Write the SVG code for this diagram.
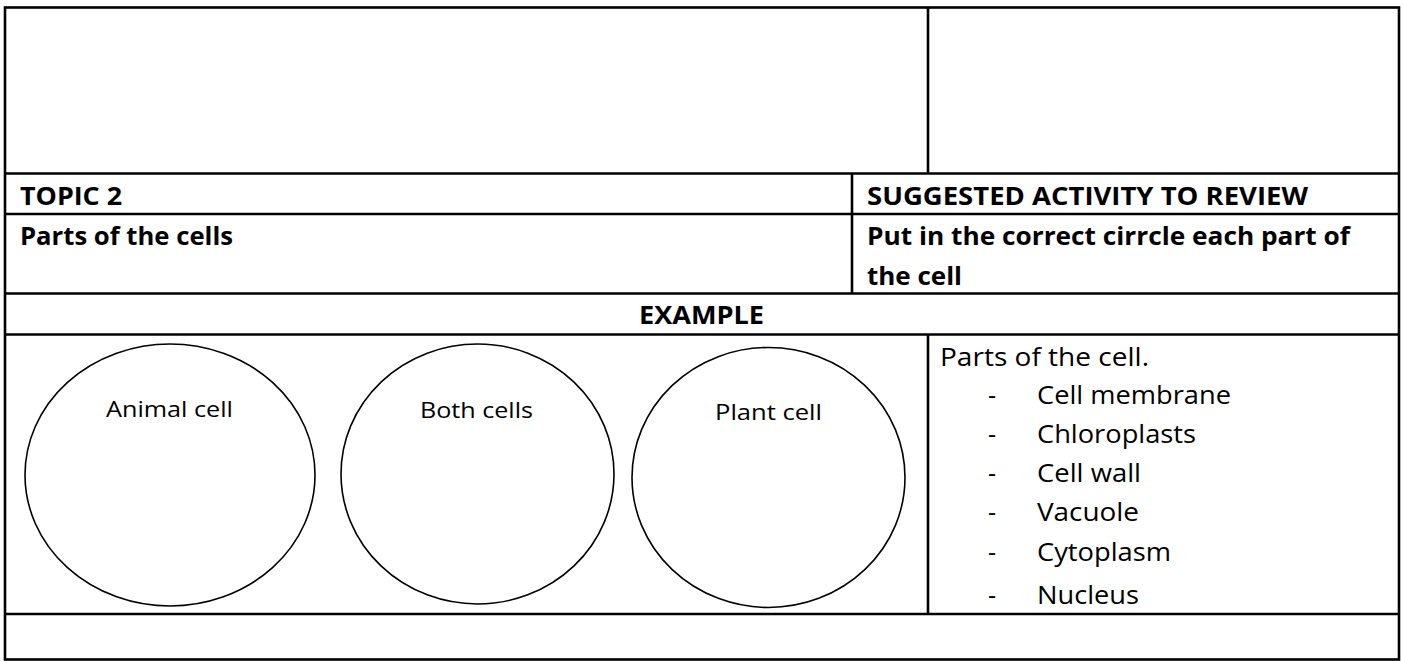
<svg xmlns="http://www.w3.org/2000/svg" width="1403" height="661" viewBox="0 0 1403 661">
  <style>
    .rule { stroke: #000; stroke-width: 2.6; fill: none; }
    .cell { stroke: #000; stroke-width: 1.6; fill: none; }
    .bold { font-family: "Open Sans", "Noto Sans", sans-serif; font-weight: 700; font-size: 25px; fill: #000; }
    .label { font-family: "Open Sans", "Noto Sans", sans-serif; font-size: 22px; fill: #000; }
    .list { font-family: "Open Sans", "Noto Sans", sans-serif; font-size: 25px; fill: #000; }
  </style>
  <rect width="1403" height="661" fill="#fff"/>

  <!-- table grid -->
  <g id="connectors">
    <rect class="rule" x="5" y="7.5" width="1394" height="652"/>
    <line class="rule" x1="928" y1="7.5" x2="928" y2="173.5"/>
    <line class="rule" x1="5" y1="173.5" x2="1399" y2="173.5"/>
    <line class="rule" x1="5" y1="214" x2="1399" y2="214"/>
    <line class="rule" x1="852" y1="173.5" x2="852" y2="293.5"/>
    <line class="rule" x1="5" y1="293.5" x2="1399" y2="293.5"/>
    <line class="rule" x1="5" y1="334.5" x2="1399" y2="334.5"/>
    <line class="rule" x1="928" y1="334.5" x2="928" y2="614"/>
    <line class="rule" x1="5" y1="614" x2="1399" y2="614"/>
  </g>

  <!-- header rows -->
  <g id="topic">
    <text class="bold" x="20" y="205" textLength="102" lengthAdjust="spacingAndGlyphs">TOPIC 2</text>
    <text class="bold" x="20" y="245" textLength="213" lengthAdjust="spacingAndGlyphs">Parts of the cells</text>
  </g>
  <g id="activity">
    <text class="bold" x="867" y="205" textLength="441" lengthAdjust="spacingAndGlyphs">SUGGESTED ACTIVITY TO REVIEW</text>
    <text class="bold" x="867" y="245" textLength="483" lengthAdjust="spacingAndGlyphs">Put in the correct cirrcle each part of</text>
    <text class="bold" x="867" y="285" textLength="95" lengthAdjust="spacingAndGlyphs">the cell</text>
  </g>
  <g id="example">
    <text class="bold" x="639" y="324" textLength="125" lengthAdjust="spacingAndGlyphs">EXAMPLE</text>
  </g>

  <!-- sorting circles -->
  <g id="animal-cell">
    <ellipse class="cell" cx="170" cy="475" rx="145" ry="131"/>
    <text class="label" x="106" y="417" textLength="127" lengthAdjust="spacingAndGlyphs">Animal cell</text>
  </g>
  <g id="both-cells">
    <ellipse class="cell" cx="477.5" cy="474" rx="136.5" ry="130"/>
    <text class="label" x="420" y="418" textLength="113" lengthAdjust="spacingAndGlyphs">Both cells</text>
  </g>
  <g id="plant-cell">
    <ellipse class="cell" cx="768.5" cy="477.5" rx="136.5" ry="130"/>
    <text class="label" x="715" y="420" textLength="107" lengthAdjust="spacingAndGlyphs">Plant cell</text>
  </g>

  <!-- list of parts -->
  <g id="parts-list">
    <text class="list" x="940" y="366" textLength="209" lengthAdjust="spacingAndGlyphs">Parts of the cell.</text>
    <text class="list" x="988" y="404">-</text>
    <text class="list" x="1037" y="404" textLength="194" lengthAdjust="spacingAndGlyphs">Cell membrane</text>
    <text class="list" x="988" y="443">-</text>
    <text class="list" x="1037" y="443" textLength="159" lengthAdjust="spacingAndGlyphs">Chloroplasts</text>
    <text class="list" x="988" y="482">-</text>
    <text class="list" x="1037" y="482" textLength="104" lengthAdjust="spacingAndGlyphs">Cell wall</text>
    <text class="list" x="988" y="521">-</text>
    <text class="list" x="1037" y="521" textLength="102" lengthAdjust="spacingAndGlyphs">Vacuole</text>
    <text class="list" x="988" y="561">-</text>
    <text class="list" x="1037" y="561" textLength="134" lengthAdjust="spacingAndGlyphs">Cytoplasm</text>
    <text class="list" x="988" y="604" font-size="27">-</text>
    <text class="list" x="1037" y="604" textLength="102" lengthAdjust="spacingAndGlyphs">Nucleus</text>
  </g>
</svg>
